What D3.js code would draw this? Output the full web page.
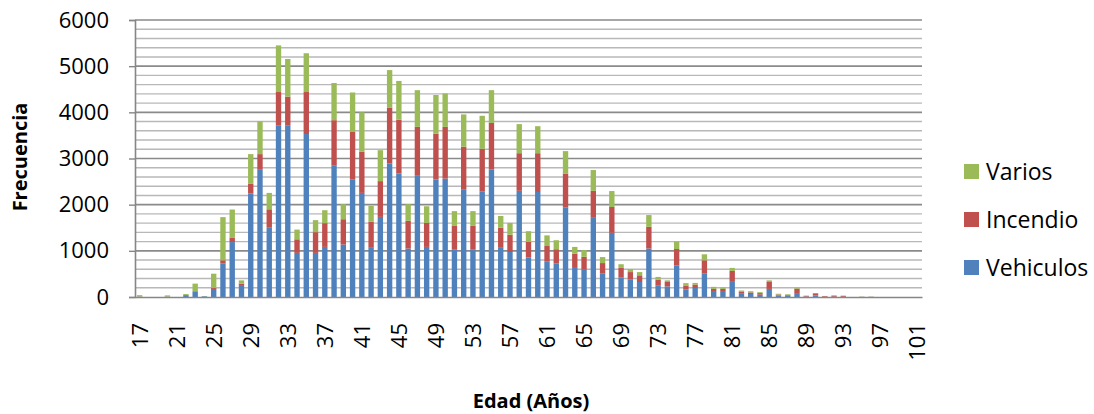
<!DOCTYPE html>
<html>
<head>
<meta charset="utf-8">
<script src="https://cdn.jsdelivr.net/npm/d3@7"></script>
<style>
  html, body { margin: 0; padding: 0; background: #fff; }
  svg { display: block; }
  text { font-family: "Open Sans", "Liberation Sans", sans-serif; fill: #000; }
</style>
</head>
<body>
<svg id="chart" width="1094" height="414"></svg>
<script>
// Ages 17..101
const ages = d3.range(17, 102);

// Frequency per age, one array per series
const vehiculos = [5,0,0,5,0,40,110,15,175,730,1190,240,2240,2755,1500,3710,3710,955,3530,955,
  1085,2855,1135,2550,2255,1065,1735,2890,2675,1050,2625,1085,2545,2565,1035,2335,1035,2290,2760,1065,
  975,2300,855,2275,775,730,1935,650,605,1715,505,1390,425,375,325,1050,255,230,680,165,
  195,505,110,110,345,70,65,50,175,35,30,85,10,35,5,5,5,0,2,2,0,0,0,0,0];
const incendio = [5,0,0,5,0,5,15,0,20,65,90,50,210,340,400,730,630,295,910,450,
  515,975,550,1025,890,565,775,1215,1165,600,1060,520,990,1120,505,920,505,920,1010,435,
  375,815,340,840,330,305,740,290,265,585,230,560,205,165,145,470,120,95,360,85,
  75,290,65,65,220,50,35,35,150,20,15,95,15,45,15,25,20,0,3,3,0,0,0,0,0];
const varios = [30,0,0,25,0,20,165,5,310,935,615,70,645,710,355,1010,815,210,840,260,
  280,805,325,855,855,345,670,810,840,360,795,360,840,725,320,700,320,715,710,255,
  255,630,230,585,230,195,485,145,145,450,130,345,80,65,70,255,60,35,165,50,
  35,130,45,30,65,20,25,20,35,15,15,20,5,5,3,5,5,0,3,3,0,0,0,0,0];

const seriesNames = ["Vehiculos", "Incendio", "Varios"];
const seriesColors = ["#4F81BD", "#C0504D", "#9BBB59"];
const yTicks = [0, 1000, 2000, 3000, 4000, 5000, 6000];
const xTickLabels = d3.range(17, 102, 4);

const rows = ages.map((a, i) => ({
  age: a, Vehiculos: vehiculos[i], Incendio: incendio[i], Varios: varios[i]
}));

const svg = d3.select("#chart");
const m = { left: 135, right: 922, top: 20, bottom: 297 };

const x = d3.scaleBand()
  .domain(ages)
  .range([m.left, m.right])
  .paddingInner(0.42)
  .paddingOuter(0.21);

const y = d3.scaleLinear().domain([0, 6000]).range([m.bottom, m.top]);

// Horizontal gridlines: minor every 200, major every 1000
const grid = svg.append("g");
d3.range(200, 6001, 200).forEach(v => {
  const major = v % 1000 === 0;
  grid.append("line")
    .attr("x1", m.left).attr("x2", m.right)
    .attr("y1", y(v)).attr("y2", y(v))
    .attr("stroke", major ? "#8a8a8a" : "#b8b8b8")
    .attr("stroke-width", major ? 1.6 : 1.4);
});

// Stacked bars
const stack = d3.stack().keys(seriesNames)(rows);
svg.append("g").selectAll("g")
  .data(stack)
  .join("g")
  .attr("fill", (d, i) => seriesColors[i])
  .selectAll("rect")
  .data(d => d)
  .join("rect")
  .attr("x", d => x(d.data.age))
  .attr("width", x.bandwidth())
  .attr("y", d => y(d[1]))
  .attr("height", d => Math.max(0, y(d[0]) - y(d[1])));

// Y axis
const yAxis = svg.append("g")
  .attr("transform", `translate(${m.left},0)`)
  .call(d3.axisLeft(y).tickValues(yTicks).tickSize(6).tickPadding(20).tickFormat(d3.format("d")));
yAxis.select(".domain").attr("stroke", "#868686").attr("stroke-width", 1.6);
yAxis.selectAll(".tick line").attr("stroke", "#868686").attr("stroke-width", 1.4);
yAxis.selectAll("text").style("font-size", "22px").attr("fill", "#000");

// X axis
const xAxis = svg.append("g")
  .attr("transform", `translate(0,${m.bottom})`)
  .call(d3.axisBottom(x).tickValues(xTickLabels).tickSize(0).tickPadding(0));
xAxis.select(".domain").attr("stroke", "#868686").attr("stroke-width", 1.6);
xAxis.selectAll("text")
  .style("font-size", "22px")
  .attr("fill", "#000")
  .attr("text-anchor", "end")
  .attr("dy", null)
  .attr("transform", "translate(8,26) rotate(-90)")
  .attr("x", 0).attr("y", 0);

// Axis titles
svg.append("text")
  .attr("transform", "translate(27,157) rotate(-90)")
  .attr("text-anchor", "middle")
  .style("font-size", "20px").style("font-weight", "bold")
  .text("Frecuencia");

svg.append("text")
  .attr("x", 531).attr("y", 408)
  .attr("text-anchor", "middle")
  .style("font-size", "20px").style("font-weight", "bold")
  .text("Edad (Años)");

// Legend (top to bottom: Varios, Incendio, Vehiculos)
const legendItems = seriesNames.map((n, i) => ({ name: n, color: seriesColors[i] })).reverse();
const lg = svg.append("g").selectAll("g")
  .data(legendItems)
  .join("g")
  .attr("transform", (d, i) => `translate(964,${171.5 + i * 48})`);
lg.append("rect").attr("x", 0).attr("y", -7.5).attr("width", 15).attr("height", 15)
  .attr("fill", d => d.color);
lg.append("text").attr("x", 22).attr("y", 0).attr("dy", "0.35em")
  .style("font-size", "23px")
  .text(d => d.name);
</script>
</body>
</html>
